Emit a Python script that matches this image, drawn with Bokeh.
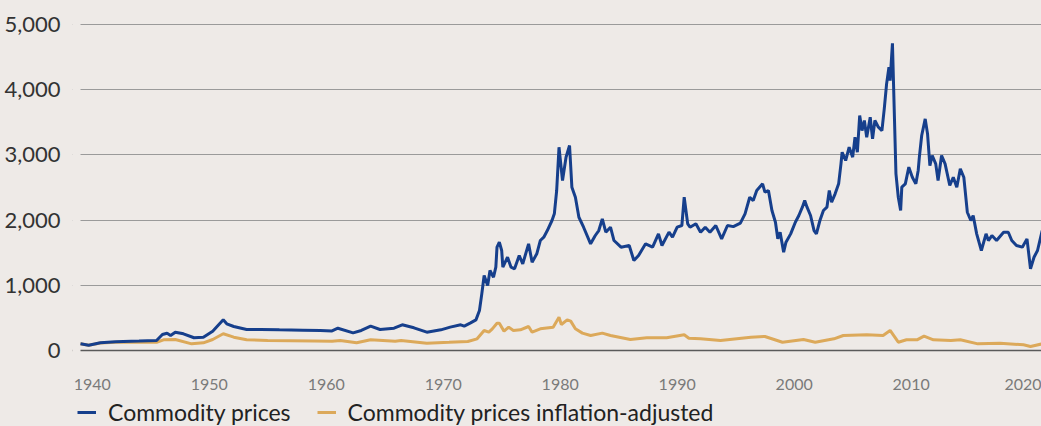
from bokeh.plotting import figure
from bokeh.models import (ColumnDataSource, FixedTicker, Range1d, Legend, LegendItem,
                          NumeralTickFormatter, Span, BoxAnnotation)
from bokeh.embed import file_html
from bokeh.resources import INLINE

# ---- data ----
nominal_year = [1939.0, 1939.7, 1940.7, 1942.0, 1944.0, 1945.5, 1946.0, 1946.4, 1946.7, 1947.1, 1947.8,
                1948.7, 1949.5, 1950.3, 1951.2, 1951.5, 1952.1, 1953.2, 1954.4, 1956.0, 1958.0, 1959.5,
                1960.5, 1961.0, 1962.3, 1963.0, 1963.8, 1964.6, 1965.8, 1966.5, 1967.5, 1968.6, 1969.8,
                1970.6, 1971.5, 1971.8, 1972.3, 1972.8, 1973.1, 1973.3, 1973.5, 1973.8, 1974.0, 1974.3,
                1974.5, 1974.6, 1974.8, 1975.0, 1975.1, 1975.5, 1975.8, 1976.1, 1976.5, 1976.8, 1977.3,
                1977.6, 1978.0, 1978.3, 1978.6, 1978.9, 1979.3, 1979.5, 1979.7, 1979.9, 1980.2, 1980.5,
                1980.8, 1981.0, 1981.3, 1981.6, 1982.0, 1982.6, 1983.0, 1983.3, 1983.6, 1983.9, 1984.3,
                1984.6, 1985.2, 1985.9, 1986.3, 1986.7, 1987.3, 1987.9, 1988.4, 1988.7, 1989.3, 1989.6,
                1990.0, 1990.4, 1990.6, 1990.9, 1991.1, 1991.6, 1992.0, 1992.4, 1992.8, 1993.3, 1993.8,
                1994.3, 1994.8, 1995.4, 1995.8, 1996.2, 1996.5, 1996.8, 1997.3, 1997.5, 1997.8, 1998.1,
                1998.4, 1998.6, 1998.8, 1999.1, 1999.3, 1999.7, 2000.1, 2000.4, 2000.7, 2000.9, 2001.1,
                2001.4, 2001.7, 2001.9, 2002.2, 2002.5, 2002.8, 2003.0, 2003.2, 2003.5, 2003.8, 2004.0,
                2004.1, 2004.4, 2004.7, 2005.0, 2005.2, 2005.4, 2005.6, 2005.8, 2006.0, 2006.2, 2006.5,
                2006.7, 2006.9, 2007.2, 2007.5, 2007.7, 2007.9, 2008.1, 2008.2, 2008.4, 2008.5, 2008.7,
                2008.9, 2009.1, 2009.2, 2009.5, 2009.8, 2010.1, 2010.4, 2010.6, 2010.7, 2010.9, 2011.2,
                2011.4, 2011.6, 2011.8, 2012.1, 2012.3, 2012.6, 2012.9, 2013.3, 2013.6, 2013.9, 2014.2,
                2014.5, 2014.8, 2015.1, 2015.3, 2015.6, 2016.0, 2016.4, 2016.6, 2016.9, 2017.3, 2017.9,
                2018.3, 2018.6, 2019.0, 2019.5, 2019.9, 2020.2, 2020.5, 2020.8, 2021.2]
nominal_value = [103, 80, 118, 135, 145, 153, 245, 265, 230, 281, 256,
                 195, 204, 296, 470, 409, 368, 322, 322, 317, 312, 307,
                 300, 342, 271, 307, 373, 322, 342, 394, 348, 281, 317,
                 358, 394, 373, 419, 470, 613, 869, 1150, 997, 1227, 1124,
                 1278, 1585, 1661, 1534, 1278, 1431, 1278, 1253, 1457, 1329, 1636,
                 1355, 1483, 1687, 1738, 1840, 1994, 2096, 2454, 3118, 2607, 2965,
                 3144, 2505, 2351, 2044, 1891, 1636, 1764, 1840, 2019, 1815, 1891,
                 1687, 1585, 1610, 1380, 1457, 1636, 1585, 1789, 1610, 1815, 1738,
                 1891, 1917, 2351, 1943, 1891, 1943, 1815, 1891, 1815, 1917, 1713,
                 1917, 1900, 1953, 2096, 2351, 2300, 2454, 2556, 2428, 2454, 2147,
                 1968, 1713, 1815, 1508, 1661, 1789, 1968, 2071, 2198, 2300, 2198,
                 2071, 1840, 1789, 1994, 2147, 2198, 2454, 2275, 2403, 2556, 2863,
                 3041, 2914, 3118, 2965, 3272, 3041, 3604, 3374, 3528, 3272, 3578,
                 3247, 3528, 3425, 3374, 3707, 4090, 4345, 4141, 4713, 4038, 2710,
                 2351, 2147, 2505, 2556, 2812, 2658, 2556, 2761, 2965, 3298, 3553,
                 3323, 2837, 2991, 2863, 2607, 2991, 2863, 2531, 2658, 2505, 2787,
                 2658, 2121, 1994, 2070, 1789, 1534, 1789, 1687, 1763, 1687, 1814,
                 1814, 1687, 1610, 1585, 1712, 1253, 1431, 1534, 1840]

real_year = [1939.0, 1939.7, 1940.7, 1942.0, 1944.0, 1945.5, 1946.1, 1947.1, 1948.5, 1949.5, 1950.3,
             1951.2, 1952.1, 1953.2, 1955.0, 1957.0, 1959.0, 1960.5, 1961.2, 1962.6, 1963.8, 1965.9,
             1966.4, 1968.6, 1970.5, 1972.1, 1972.9, 1973.5, 1973.9, 1974.2, 1974.6, 1974.8, 1975.2,
             1975.6, 1976.0, 1976.6, 1977.3, 1977.6, 1978.3, 1979.4, 1979.9, 1980.1, 1980.6, 1980.9,
             1981.3, 1981.9, 1982.6, 1983.6, 1984.3, 1986.0, 1987.4, 1989.1, 1990.6, 1991.0, 1992.0,
             1993.7, 1996.3, 1997.5, 1999.0, 2000.8, 2001.8, 2003.4, 2004.2, 2006.2, 2007.6, 2008.2,
             2008.9, 2009.6, 2010.5, 2011.1, 2011.9, 2013.4, 2014.2, 2015.7, 2017.6, 2019.6, 2020.2,
             2021.2]
real_value = [103, 80, 115, 125, 128, 127, 164, 169, 102, 118, 169,
              256, 204, 164, 153, 150, 145, 140, 153, 118, 164, 143,
              153, 112, 125, 138, 179, 307, 281, 332, 419, 419, 296,
              358, 307, 317, 368, 281, 332, 358, 511, 399, 470, 450,
              332, 266, 230, 266, 230, 169, 194, 194, 240, 189, 179,
              153, 204, 215, 127, 169, 127, 179, 230, 240, 230, 307,
              127, 164, 164, 220, 164, 153, 164, 102, 112, 87, 61,
              102]

series_labels = ["Commodity prices", "Commodity prices inflation-adjusted"]
x_ticks = [1940, 1950, 1960, 1970, 1980, 1990, 2000, 2010, 2020]
y_ticks = [0, 1000, 2000, 3000, 4000, 5000]

BG = "#EEEAE7"
BLUE = "#163F8C"
GOLD = "#DCA95A"
FONT = "Lato"

# frame spans the whole lower area so that the legend can sit inside it;
# the x axis is pinned to value 0 with fixed_location
p = figure(width=1041, height=426, output_backend="svg", toolbar_location=None,
           x_range=Range1d(1938.316, 2021.14), y_range=Range1d(-1166, 5200),
           min_border_left=72, min_border_right=0, min_border_top=11, min_border_bottom=0)
p.background_fill_color = BG
p.border_fill_color = BG
p.outline_line_color = None

p.xgrid.grid_line_color = None
p.ygrid.ticker = FixedTicker(ticks=[1000, 2000, 3000, 4000, 5000])
p.ygrid.grid_line_color = "#9A9A9A"
p.ygrid.grid_line_width = 1.2
p.add_layout(Span(location=0, dimension="width", line_color="#5A5A5A", line_width=1.5,
                  level="underlay"))
# gridlines begin where the data begin
p.add_layout(BoxAnnotation(right=nominal_year[0], fill_color=BG, fill_alpha=1,
                           line_alpha=0, level="underlay"))

src_n = ColumnDataSource(dict(x=nominal_year, y=nominal_value))
src_r = ColumnDataSource(dict(x=real_year, y=real_value))
r_real = p.line("x", "y", source=src_r, line_color=GOLD, line_width=3)
r_nom = p.line("x", "y", source=src_n, line_color=BLUE, line_width=3)

p.xaxis.fixed_location = 0
p.xaxis.ticker = FixedTicker(ticks=x_ticks)
p.xaxis.axis_line_color = None
p.xaxis.major_tick_line_color = None
p.xaxis.minor_tick_line_color = None
p.xaxis.major_label_text_font = FONT
p.xaxis.major_label_text_font_size = "16px"
p.xaxis.major_label_text_color = "#7A7A7A"
p.xaxis.major_label_standoff = 23

p.yaxis.ticker = FixedTicker(ticks=y_ticks)
p.yaxis.formatter = NumeralTickFormatter(format="0,0")
p.yaxis.axis_line_color = None
p.yaxis.major_tick_line_color = None
p.yaxis.minor_tick_line_color = None
p.yaxis.major_label_text_font = FONT
p.yaxis.major_label_text_font_size = "22px"
p.yaxis.major_label_text_color = "#333333"
p.yaxis.major_label_standoff = 6

legend = Legend(items=[LegendItem(label=series_labels[0], renderers=[r_nom]),
                       LegendItem(label=series_labels[1], renderers=[r_real])],
                orientation="horizontal", location=(5, 0))
legend.background_fill_alpha = 0
legend.border_line_color = None
legend.label_text_font = FONT
legend.label_text_font_size = "23px"
legend.label_text_color = "#222222"
legend.glyph_width = 19
legend.label_standoff = 12
legend.spacing = 26
legend.padding = 0
legend.margin = 0
p.add_layout(legend)

html = file_html(p, INLINE)
html = html.replace("<head>", "<head><style>html,body{background:%s;}</style>" % BG, 1)
open("out.html", "w").write(html)
